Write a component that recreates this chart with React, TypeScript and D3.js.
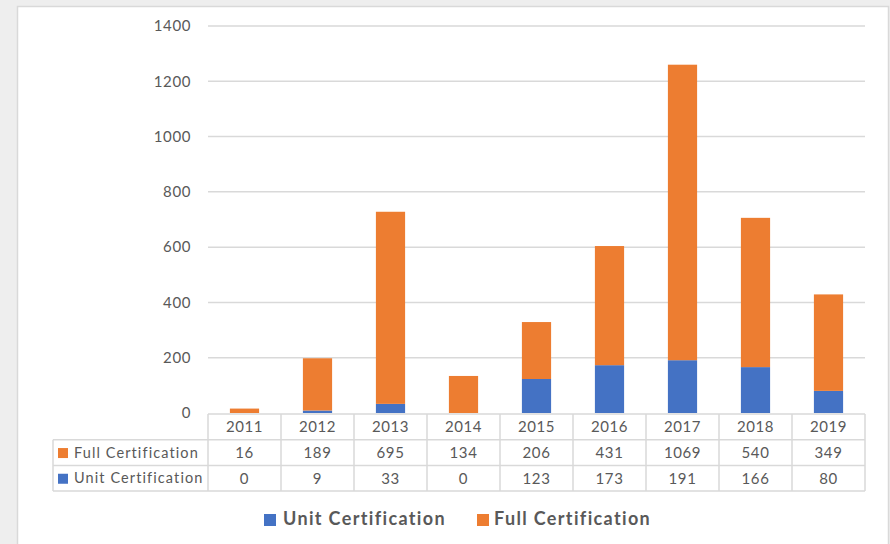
import React from 'react';
import * as d3 from 'd3';

const width = 890;
const height = 544;
const margin = {top: 26, right: 25, bottom: 131, left: 208};
const blue = '#4472c4';
const orange = '#ed7d31';
const textGray = '#595959';
const lineGray = '#d9d9d9';
const font = 'Lato, "Open Sans", sans-serif';

const years = ['2011', '2012', '2013', '2014', '2015', '2016', '2017', '2018', '2019'];
const fullCert = [16, 189, 695, 134, 206, 431, 1069, 540, 349];
const unitCert = [0, 9, 33, 0, 123, 173, 191, 166, 80];
const yTicks = [0, 200, 400, 600, 800, 1000, 1200, 1400];

const series = [
  {name: 'Full Certification', values: fullCert, color: orange},
  {name: 'Unit Certification', values: unitCert, color: blue},
];

export default function App() {
  const plotBottom = height - margin.bottom; // 413
  const x = d3.scaleBand().domain(years).range([margin.left, width - margin.right]);
  const y = d3.scaleLinear().domain([0, 1400]).range([plotBottom, margin.top]);
  const barW = x.bandwidth() * 0.4;

  const rows = years.map((yr, i) => ({year: yr, unit: unitCert[i], full: fullCert[i]}));
  const stacked = d3.stack<any>().keys(['unit', 'full'])(rows);
  const colorOf: Record<string, string> = {unit: blue, full: orange};

  // table geometry
  const tTop = plotBottom + 1;
  const rowH = 25.7;
  const labelLeft = 53;
  const xEnd = width - margin.right;

  return (
    <svg width={width} height={height} style={{position: 'absolute', left: 0, top: 0}} fontFamily={font}>
      <rect x={0} y={0} width={width} height={height} fill="#eeeeee" />
      <rect x={17.5} y={6.5} width={871} height={560} fill="#ffffff" stroke={lineGray} strokeWidth={1.5} />

      {/* grid + y axis labels */}
      {yTicks.map(t => (
        <g key={t}>
          {t > 0 && <line x1={margin.left} x2={xEnd} y1={y(t)} y2={y(t)} stroke={lineGray} strokeWidth={1.5} />}
          <text x={191} y={y(t)} dy="0.35em" textAnchor="end" fontSize={15} fill={textGray} letterSpacing={0.6}>{t}</text>
        </g>
      ))}

      {/* bars */}
      {stacked.map(layer => (
        <g key={layer.key} fill={colorOf[layer.key]}>
          {layer.map((d, i) => (
            <rect key={i} x={(x(years[i]) as number) + (x.bandwidth() - barW) / 2} y={y(d[1])}
              width={barW} height={Math.max(0, y(d[0]) - y(d[1]))} />
          ))}
        </g>
      ))}

      {/* data table */}
      <g stroke={lineGray} strokeWidth={1.5} fill="none">
        <line x1={margin.left} x2={xEnd} y1={tTop} y2={tTop} />
        <line x1={labelLeft} x2={xEnd} y1={tTop + rowH} y2={tTop + rowH} />
        <line x1={labelLeft} x2={xEnd} y1={tTop + rowH * 2} y2={tTop + rowH * 2} />
        <line x1={labelLeft} x2={xEnd} y1={tTop + rowH * 3} y2={tTop + rowH * 3} />
        <line x1={labelLeft} x2={labelLeft} y1={tTop + rowH} y2={tTop + rowH * 3} />
        {years.map(yr => (
          <line key={yr} x1={x(yr)} x2={x(yr)} y1={tTop} y2={tTop + rowH * 3} />
        ))}
        <line x1={xEnd} x2={xEnd} y1={tTop} y2={tTop + rowH * 3} />
      </g>
      {years.map(yr => (
        <text key={yr} x={(x(yr) as number) + x.bandwidth() / 2} y={tTop + rowH / 2} dy="0.36em"
          textAnchor="middle" fontSize={15} fill={textGray} letterSpacing={0.6}>{yr}</text>
      ))}
      {series.map((s, r) => (
        <g key={s.name}>
          <rect x={58} y={tTop + rowH * (r + 1) + rowH / 2 - 4.5} width={10} height={10} fill={s.color} />
          <text x={74} y={tTop + rowH * (r + 1) + rowH / 2} dy="0.36em" fontSize={14.5} fill={textGray} letterSpacing={1.1}>{s.name}</text>
          {s.values.map((v, i) => (
            <text key={i} x={(x(years[i]) as number) + x.bandwidth() / 2} y={tTop + rowH * (r + 1) + rowH / 2} dy="0.36em"
              textAnchor="middle" fontSize={15} fill={textGray} letterSpacing={0.6}>{v}</text>
          ))}
        </g>
      ))}

      {/* legend */}
      <rect x={264} y={514} width={12} height={12} fill={blue} />
      <text x={283} y={519} dy="0.36em" fontSize={18} fontWeight="bold" fill={textGray} letterSpacing={1.35}>Unit Certification</text>
      <rect x={477} y={514} width={12} height={12} fill={orange} />
      <text x={494} y={519} dy="0.36em" fontSize={18} fontWeight="bold" fill={textGray} letterSpacing={1.35}>Full Certification</text>
    </svg>
  );
}
